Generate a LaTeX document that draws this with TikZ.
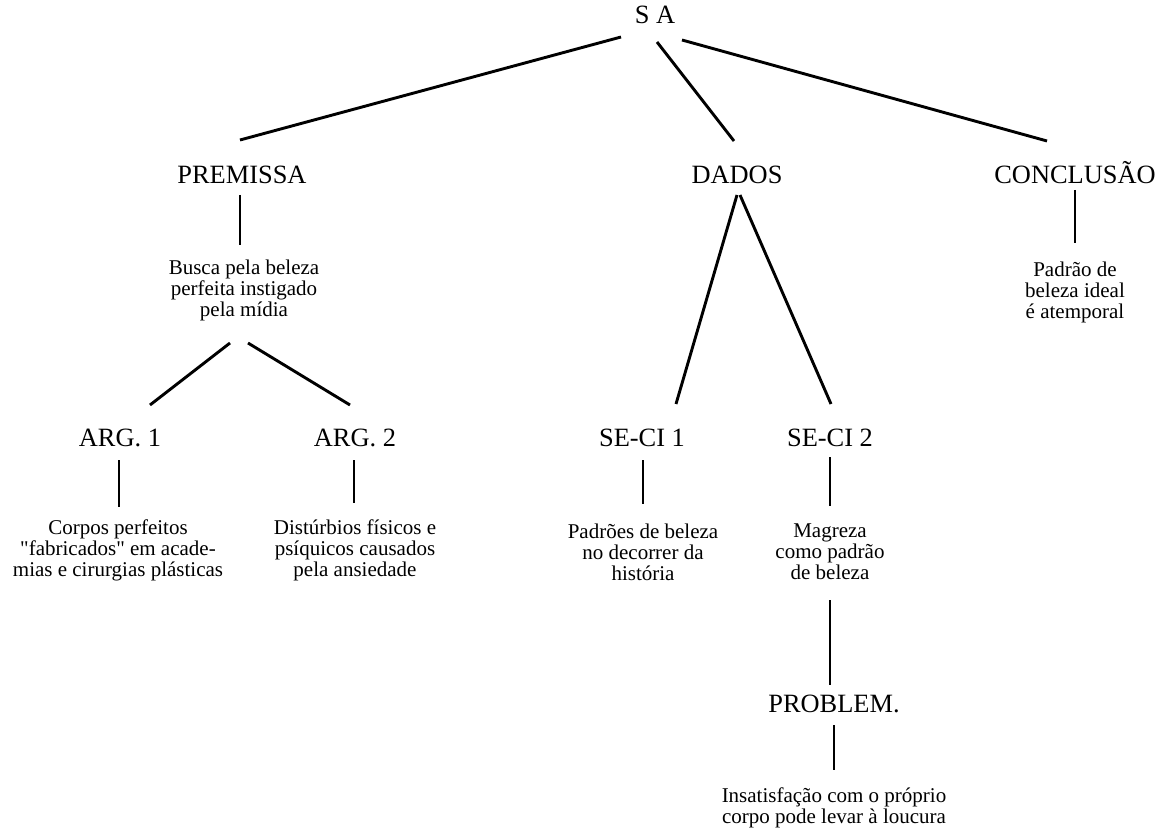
\documentclass[tikz,border=0pt]{standalone}
\usepackage{fontspec}
\setmainfont{Liberation Serif}[Ligatures=TeXOff]
\begin{document}
\begin{tikzpicture}[x=1pt,y=-1pt,
  head/.style={font=\fontsize{26.4}{30}\selectfont, inner sep=0pt},
  note/.style={font=\fontsize{21}{21}\selectfont, align=center, inner sep=0pt},
  link/.style={line width=2.9pt}]
\useasboundingbox (0,0) rectangle (1160,829);

% headings
\node[head] (sa)    at (655,15)  {S A};
\node[head] (prem)  at (242,175) {PREMISSA};
\node[head] (dados) at (737,175) {DADOS};
\node[head] (conc)  at (1075,173) {CONCLUSÃO};
\node[head] (arg1)  at (120,438) {ARG. 1};
\node[head] (arg2)  at (355,438) {ARG. 2};
\node[head] (seci1) at (642,438) {SE-CI 1};
\node[head] (seci2) at (830,438) {SE-CI 2};
\node[head] (probl) at (834,704) {PROBLEM.};

% descriptions
\node[note] (busca)   at (244,290)  {Busca pela beleza\\perfeita instigado\\pela mídia};
\node[note] (corpos)  at (118,550)  {Corpos perfeitos\\"fabricados" em acade-\\mias e cirurgias plásticas};
\node[note] (dist)    at (355,550)  {Distúrbios físicos e\\psíquicos causados\\pela ansiedade};
\node[note] (padroes) at (643,552)  {Padrões de beleza\\no decorrer da\\história};
\node[note] (magreza) at (830,552)  {Magreza\\como padrão\\de beleza};
\node[note] (insat)   at (834,808)  {Insatisfação com o próprio\\corpo pode levar à loucura};
\node[note] (padrao)  at (1075,292) {Padrão de\\beleza ideal\\é atemporal};

% connectors
\draw[link] ([shift={(-34,22)}]sa.center) -- ([shift={(-2,-35)}]prem.center);
\draw[link] ([shift={(2,27)}]sa.center) -- ([shift={(-3,-34)}]dados.center);
\draw[link] ([shift={(27,25)}]sa.center) -- ([shift={(-28,-32)}]conc.center);
\draw[link] ([shift={(-2,20)}]prem.center) -- ([shift={(-4,-45)}]busca.center);
\draw[link] ([shift={(-14,53)}]busca.center) -- ([shift={(30,-33)}]arg1.center);
\draw[link] ([shift={(4,53)}]busca.center) -- ([shift={(-5,-33)}]arg2.center);
\draw[link] ([shift={(-1,22)}]arg1.center) -- ([shift={(1,-43)}]corpos.center);
\draw[link] ([shift={(-1,22)}]arg2.center) -- ([shift={(-1,-47)}]dist.center);
\draw[link] ([shift={(0,20)}]dados.center) -- ([shift={(34,-34)}]seci1.center);
\draw[link] ([shift={(3,20)}]dados.center) -- ([shift={(1,-34)}]seci2.center);
\draw[link] ([shift={(1,22)}]seci1.center) -- ([shift={(0,-48)}]padroes.center);
\draw[link] ([shift={(0,19)}]seci2.center) -- ([shift={(0,-46)}]magreza.center);
\draw[link] ([shift={(0,48)}]magreza.center) -- ([shift={(-4,-19)}]probl.center);
\draw[link] ([shift={(0,21)}]probl.center) -- ([shift={(0,-38)}]insat.center);
\draw[link] ([shift={(0,17)}]conc.center) -- ([shift={(0,-49)}]padrao.center);
\end{tikzpicture}
\end{document}
